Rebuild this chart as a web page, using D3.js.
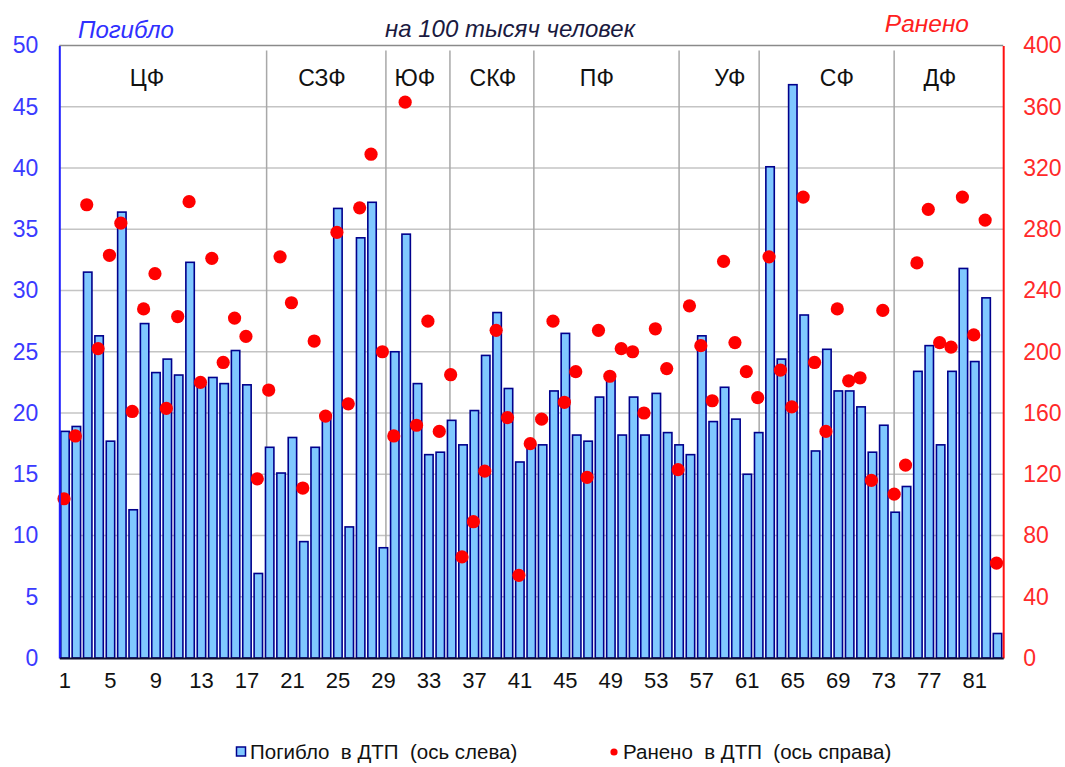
<!DOCTYPE html>
<html>
<head>
<meta charset="utf-8">
<script src="https://cdn.jsdelivr.net/npm/d3@7"></script>
<style>
  html, body { margin: 0; padding: 0; background: #fff; }
  svg { display: block; font-family: "Liberation Sans", Arial, sans-serif; }
  text { white-space: pre; }
</style>
</head>
<body>
<svg id="chart" width="1065" height="767"></svg>
<script>
  // ============================================================
  // Data
  // ============================================================

  const categories = d3.range(1, 84);

  // погибло на 100 тыс. (левая ось)
  const killed = [
    18.5, 18.9, 31.5, 26.3, 17.7, 36.4, 12.1, 27.3, 23.3, 24.4,
    23.1, 32.3, 22.3, 22.9, 22.4, 25.1, 22.3, 6.9, 17.2, 15.1,
    18.0, 9.5, 17.2, 19.8, 36.7, 10.7, 34.3, 37.2, 9.0, 25.0,
    34.6, 22.4, 16.6, 16.8, 19.4, 17.4, 20.2, 24.7, 28.2, 22.0,
    16.0, 17.4, 17.4, 21.8, 26.5, 18.2, 17.7, 21.3, 22.7, 18.2,
    21.3, 18.2, 21.6, 18.4, 17.4, 16.6, 26.3, 19.3, 22.1, 19.5,
    15.0, 18.4, 40.1, 24.4, 46.8, 28.0, 16.9, 25.2, 21.8, 21.8,
    20.5, 16.8, 19.0, 11.9, 14.0, 23.4, 25.5, 17.4, 23.4, 31.8,
    24.2, 29.4, 2.0
  ];

  // ранено на 100 тыс. (правая ось)
  const injured = [
    104, 145, 296, 202, 263, 284, 161, 228, 251, 163,
    223, 298, 180, 261, 193, 222, 210, 117, 175, 262,
    232, 111, 207, 158, 278, 166, 294, 329, 200, 145,
    363, 152, 220, 148, 185, 66, 89, 122, 214, 157,
    54, 140, 156, 220, 167, 187, 118, 214, 184, 202,
    200, 160, 215, 189, 123, 230, 204, 168, 259, 206,
    187, 170, 262, 188, 164, 301, 193, 148, 228, 181,
    183, 116, 227, 107, 126, 258, 293, 206, 203, 301,
    211, 286, 62
  ];

  const leftTicks = d3.range(0, 51, 5);
  const rightTicks = d3.range(0, 401, 40);
  const xTickLabels = d3.range(1, 84, 4);

  // федеральные округа: подпись и её положение (в долях категорий), границы
  const districtNames = ["ЦФ", "СЗФ", "ЮФ", "СКФ", "ПФ", "УФ", "СФ", "ДФ"];
  const districtLabelPos = [7.72, 23.1, 31.27, 38.13, 47.27, 58.96, 68.37, 77.43];
  const districtBounds = [18.23, 28.72, 34.35, 41.73, 54.5, 61.54, 73.41];

  // ============================================================
  // Layout
  // ============================================================

  const svg = d3.select("#chart");
  const plotL = 59.3, plotR = 1003.2, plotT = 45.5, plotB = 658;

  const x = d3.scaleBand().domain(categories).range([plotL, plotR]).paddingInner(0.26).paddingOuter(0.13);
  const xPos = d3.scaleLinear().domain([0, categories.length]).range([plotL, plotR]);
  const yL = d3.scaleLinear().domain([0, 50]).range([plotB, plotT]);
  const yR = d3.scaleLinear().domain([0, 400]).range([plotB, plotT]);

  // gridlines
  svg.append("g")
    .selectAll("line")
    .data(leftTicks.filter(d => d > 0 && d < 50))
    .join("line")
    .attr("x1", plotL).attr("x2", plotR)
    .attr("y1", d => yL(d)).attr("y2", d => yL(d))
    .attr("stroke", "#c4c4c4").attr("stroke-width", 1.5);

  // top border
  svg.append("line")
    .attr("x1", plotL).attr("x2", plotR).attr("y1", plotT).attr("y2", plotT)
    .attr("stroke", "#8a8a8a").attr("stroke-width", 1.5);

  // district separators
  svg.append("g")
    .selectAll("line")
    .data(districtBounds)
    .join("line")
    .attr("x1", d => xPos(d)).attr("x2", d => xPos(d))
    .attr("y1", yL(49.6)).attr("y2", yL(0.9))
    .attr("stroke", "#a8a8a8").attr("stroke-width", 1.5);

  svg.append("g")
    .selectAll("text")
    .data(districtNames)
    .join("text")
    .attr("x", (d, i) => xPos(districtLabelPos[i]))
    .attr("y", 86)
    .attr("text-anchor", "middle")
    .attr("font-size", 23)
    .attr("fill", "#111")
    .text(d => d);

  // ============================================================
  // Bars and dots
  // ============================================================

  svg.append("g")
    .selectAll("rect")
    .data(killed)
    .join("rect")
    .attr("x", (d, i) => x(categories[i]))
    .attr("y", d => yL(d))
    .attr("width", x.bandwidth())
    .attr("height", d => yL(0) - yL(d))
    .attr("fill", "#80c8ff")
    .attr("stroke", "#00008c")
    .attr("stroke-width", 1.6);

  svg.append("g")
    .selectAll("circle")
    .data(injured)
    .join("circle")
    .attr("cx", (d, i) => x(categories[i]) + x.bandwidth() / 2 - 1)
    .attr("cy", d => yR(d))
    .attr("r", 6.6)
    .attr("fill", "#ff0000");

  // ============================================================
  // Axes
  // ============================================================

  const axisL = svg.append("g")
    .attr("transform", `translate(${plotL},0)`)
    .call(d3.axisLeft(yL).tickValues(leftTicks).tickSize(0).tickPadding(21));
  axisL.select(".domain").attr("stroke", "#2020ff").attr("stroke-width", 2);
  axisL.selectAll("text").attr("font-size", 23).attr("fill", "#3a3aff").attr("font-family", null);

  const axisR = svg.append("g")
    .attr("transform", `translate(${plotR},0)`)
    .call(d3.axisRight(yR).tickValues(rightTicks).tickSize(0).tickPadding(20));
  axisR.select(".domain").attr("stroke", "#ff1010").attr("stroke-width", 2);
  axisR.selectAll("text").attr("font-size", 23).attr("fill", "#ff2a2a").attr("font-family", null);

  const axisB = svg.append("g")
    .attr("transform", `translate(0,${plotB})`)
    .call(d3.axisBottom(x).tickValues(xTickLabels).tickSize(0).tickPadding(14));
  axisB.select(".domain").attr("stroke", "#101030").attr("stroke-width", 2);
  axisB.selectAll("text").attr("font-size", 22).attr("fill", "#111").attr("font-family", null);

  // ============================================================
  // Titles
  // ============================================================

  svg.append("text").attr("x", 78).attr("y", 38)
    .attr("font-size", 24).attr("font-style", "italic").attr("fill", "#3030ff")
    .text("Погибло");

  svg.append("text").attr("x", 510).attr("y", 37)
    .attr("text-anchor", "middle")
    .attr("font-size", 24).attr("font-style", "italic").attr("fill", "#1a1a40")
    .text("на 100 тысяч человек");

  svg.append("text").attr("x", 969).attr("y", 32)
    .attr("text-anchor", "end")
    .attr("font-size", 24.5).attr("font-style", "italic").attr("fill", "#ff2020")
    .text("Ранено");

  // ============================================================
  // Legend
  // ============================================================

  const legend = svg.append("g").attr("transform", "translate(0,752)");
  legend.append("rect").attr("x", 236.5).attr("y", -5).attr("width", 9).attr("height", 9)
    .attr("fill", "#80c8ff").attr("stroke", "#00008c").attr("stroke-width", 1.5);
  legend.append("text").attr("x", 250).attr("y", 7)
    .attr("font-size", 20.5).attr("fill", "#111")
    .text("Погибло  в ДТП  (ось слева)");
  legend.append("circle").attr("cx", 614).attr("cy", 0).attr("r", 3.6).attr("fill", "#ff0000");
  legend.append("text").attr("x", 623).attr("y", 7)
    .attr("font-size", 20.5).attr("fill", "#111")
    .text("Ранено  в ДТП  (ось справа)");
</script>
</body>
</html>
